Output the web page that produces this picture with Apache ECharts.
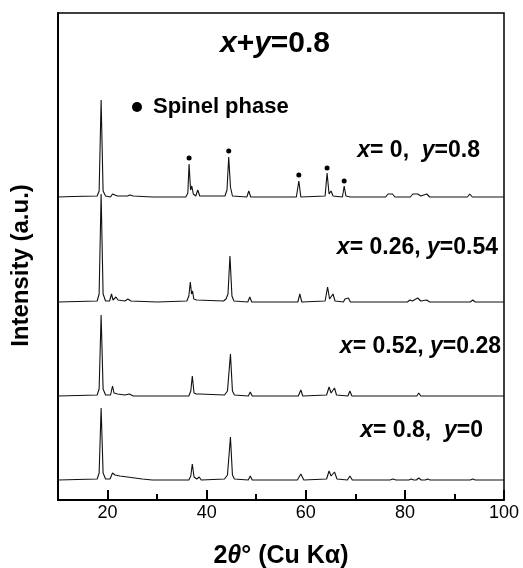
<!DOCTYPE html>
<html>
<head>
<meta charset="utf-8">
<script src="https://cdn.jsdelivr.net/npm/echarts@6/dist/echarts.min.js"></script>
<style>html,body{margin:0;padding:0;background:#fff;}#c{width:523px;height:568px;}</style>
</head>
<body>
<div id="c"></div>
<script>
// 2-theta / intensity (a.u.) points, per sample
const trace_x0 = [[10,0],[13,0.5],[17.9,1],[18.3,6],[18.7,97],[19.1,6],[19.6,1],[20.6,0],[21.0,3],[21.4,1],[22.0,1],[22.4,3],[22.8,1],[24.0,1],[24.5,2],[25.2,1],[29,0],[35.8,0],[36.2,4],[36.45,33],[36.75,7],[37.0,11],[37.3,3],[37.8,1],[38.2,7],[38.6,1],[43.7,1],[44.1,7],[44.45,40],[44.8,10],[45.2,1],[48.1,0],[48.5,6],[48.9,0],[58.1,0],[58.6,16],[59.0,0],[63.9,1],[64.3,24],[64.7,3],[65.1,6],[65.5,1],[67.4,0],[67.75,11],[68.1,1],[68.5,2],[69,0],[76.1,0],[76.6,3],[77.0,1],[77.5,3],[78.0,0],[81.1,0],[81.6,3],[82.0,1],[82.6,3],[83.2,1],[84.4,3],[85.0,0],[92.6,0],[93.1,3],[93.6,0],[97.8,0],[98.2,2],[98.6,0],[100,0]];
const trace_x026 = [[10,0],[17.9,1],[18.3,8],[18.7,108],[19.1,8],[19.6,1],[20.4,1],[20.8,8],[21.1,2],[21.4,3],[21.7,5],[22.1,2],[23.5,1],[24.1,3],[24.7,1],[30,0],[36.0,1],[36.4,6],[36.7,20],[36.95,8],[37.15,11],[37.4,3],[38.0,2],[38.4,1],[43.4,1],[43.9,3],[44.3,8],[44.7,46],[45.1,6],[45.5,1],[48.3,0],[48.7,5],[49.1,0],[58.4,0],[58.8,8],[59.2,0],[63.9,1],[64.4,15],[64.8,3],[65.2,4],[65.5,8],[65.9,1],[67.6,0],[67.9,3],[68.2,1],[68.6,4],[69.0,0],[77.0,0],[77.4,2],[78,0],[80.5,0],[81.0,2],[81.5,1],[82.6,4],[83.2,1],[84.4,2],[85,0],[93.2,0],[93.7,2],[94.2,0],[98.6,0],[99.0,2],[99.4,0],[100,0]];
const trace_x052 = [[10,0],[17.9,1],[18.3,7],[18.7,81],[19.1,7],[19.6,1],[20.6,1],[21.0,10],[21.3,3],[21.6,5],[22.0,2],[23.5,1],[24.4,2],[25.2,0],[30,0],[36.4,0],[36.8,5],[37.1,20],[37.45,3],[37.9,2],[38.2,1],[38.6,2],[39.0,0],[43.6,1],[44.2,5],[44.8,42],[45.2,5],[45.6,1],[48.4,0],[48.8,4],[49.2,0],[58.5,0],[59.0,6],[59.4,0],[64.2,1],[64.7,9],[65.1,3],[65.8,8],[66.2,1],[68.5,0],[68.9,5],[69.3,0],[77.2,0],[77.6,1],[78.0,0],[80.6,0],[81.0,2],[81.4,0],[82.4,0],[82.8,3],[83.2,0],[84.2,0],[84.6,1],[85,0],[93.3,0],[93.7,1],[94.1,0],[98.6,0],[99.0,1],[99.4,0],[100,0]];
const trace_x08 = [[10,0],[17.9,1],[18.3,7],[18.7,72],[19.1,7],[19.6,1],[20.5,1],[21.0,7],[21.5,5],[22.5,4],[24.0,3],[25.5,2],[27,1],[29,0],[36.4,0],[36.8,4],[37.1,16],[37.45,3],[38.0,1],[38.5,3],[38.9,0],[43.6,1],[44.2,5],[44.8,43],[45.2,5],[45.6,1],[48.4,0],[48.8,4],[49.2,0],[58.3,0],[59.0,6],[59.6,0],[64.2,1],[64.7,9],[65.1,4],[65.8,8],[66.3,1],[68.4,0],[68.9,4],[69.4,0],[77.0,0],[77.6,1],[78.2,0],[80.8,0],[81.3,1],[81.8,0],[82.3,0],[82.8,2],[83.3,0],[84.1,0],[84.6,1],[85.1,0],[93.2,0],[93.7,1],[94.2,0],[100,0]];
const traceOffsets = [303, 198, 104, 20];
const sampleLabels = [['0,  ','0.8'], ['0.26, ','0.54'], ['0.52, ','0.28'], ['0.8,  ','0']];
// spinel phase markers (2-theta, stacked intensity)
const spinelX = [36.45, 44.45, 58.6, 64.3, 67.75];
const spinelY = [342, 349, 325, 332, 319];
const majorTicks = [20, 40, 60, 80, 100];
const minorTicks = [30, 50, 70, 90];

const traces = [trace_x0, trace_x026, trace_x052, trace_x08];
const FONT = 'Liberation Sans, Arial, sans-serif';
const chart = echarts.init(document.getElementById('c'), null, {renderer: 'canvas'});

const series = traces.map((t, i) => ({
  type: 'line', name: 'S' + i, showSymbol: false, silent: true,
  lineStyle: {color: '#111', width: 1.1},
  data: t.map(p => [p[0], p[1] + traceOffsets[i]])
}));
series.push({
  type: 'scatter', name: 'Spinel phase', symbol: 'circle', symbolSize: 5,
  itemStyle: {color: '#000', opacity: 1},
  data: spinelX.map((x, i) => [x, spinelY[i]])
});

const labelRich = {
  i: {fontFamily: FONT, fontWeight: 'bold', fontStyle: 'italic', fontSize: 23, fill: '#000'},
  n: {fontFamily: FONT, fontWeight: 'bold', fontSize: 23, fill: '#000'}
};
const labelPos = [[480, 151], [498, 248], [501, 347], [483, 431]];
const graphics = sampleLabels.map((s, i) => ({
  type: 'text', x: labelPos[i][0], y: labelPos[i][1],
  style: {text: '{i|x}{n|= ' + s[0] + '}{i|y}{n|=' + s[1] + '}', rich: labelRich, align: 'right', verticalAlign: 'middle'}
}));
graphics.push({
  type: 'text', x: 275, y: 44,
  style: {text: '{i|x}{n|+}{i|y}{n|=0.8}', align: 'center', verticalAlign: 'middle',
    rich: {i: {fontFamily: FONT, fontWeight: 'bold', fontStyle: 'italic', fontSize: 30, fill: '#000'},
           n: {fontFamily: FONT, fontWeight: 'bold', fontSize: 30, fill: '#000'}}}
});

chart.setOption({
  animation: false,
  backgroundColor: '#fff',
  grid: {left: 58, right: 19, top: 13, bottom: 68, show: true, borderColor: '#000', borderWidth: 1.5,
         containLabel: false, outerBoundsMode: 'none'},
  legend: {
    data: [{name: 'Spinel phase', icon: 'circle', itemStyle: {color: '#000', opacity: 1}}],
    left: 132, top: 96, padding: 0, itemWidth: 10, itemHeight: 10, itemGap: 0,
    selectedMode: false,
    textStyle: {fontFamily: FONT, fontWeight: 'bold', fontSize: 22, color: '#000', padding: [0, 0, 0, 6]}
  },
  xAxis: [{
    type: 'value', min: 10, max: 100, position: 'bottom',
    axisLine: {show: true, onZero: false, lineStyle: {color: '#000', width: 2}},
    axisTick: {show: true, inside: true, length: 10, customValues: majorTicks, lineStyle: {color: '#000', width: 2}},
    axisLabel: {show: true, customValues: majorTicks, fontFamily: FONT, fontSize: 18, color: '#000', margin: 4},
    splitLine: {show: false},
    name: '{n|2}{i|θ}{n|° (Cu K}{n|α}{n|)}', nameLocation: 'middle', nameGap: 44,
    nameTextStyle: {rich: {
      n: {fontFamily: FONT, fontWeight: 'bold', fontSize: 25, color: '#000'},
      i: {fontFamily: FONT, fontWeight: 'bold', fontStyle: 'italic', fontSize: 25, color: '#000'}}}
  }, {
    type: 'value', min: 10, max: 100, position: 'bottom', gridIndex: 0,
    axisLine: {show: false},
    axisTick: {show: true, inside: true, length: 6, customValues: minorTicks, lineStyle: {color: '#000', width: 2}},
    axisLabel: {show: false},
    splitLine: {show: false}
  }],
  yAxis: {
    type: 'value', min: 0, max: 487,
    axisLine: {show: true, lineStyle: {color: '#000', width: 2}},
    axisTick: {show: false}, axisLabel: {show: false}, splitLine: {show: false},
    name: 'Intensity (a.u.)', nameLocation: 'middle', nameGap: 25,
    nameTextStyle: {fontFamily: FONT, fontWeight: 'bold', fontSize: 24, color: '#000', padding: [0, 18, 0, 0]}
  },
  graphic: graphics,
  series: series
});
</script>
</body>
</html>
